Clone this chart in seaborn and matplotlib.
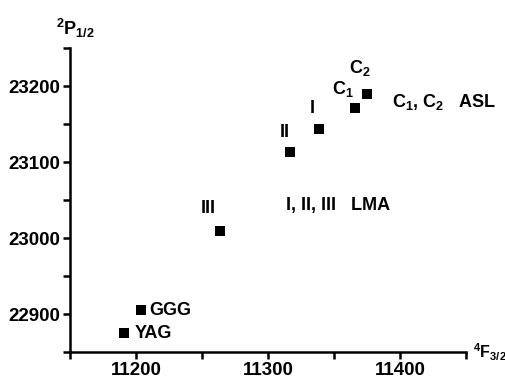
import matplotlib
matplotlib.use("Agg")
import matplotlib.pyplot as plt
import seaborn as sns
import pandas as pd
from matplotlib.ticker import MultipleLocator

# Data
labels = ["YAG", "GGG", "III", "II", "I", "C$_1$", "C$_2$"]
f32 = [11191, 11204, 11264, 11317, 11339, 11366, 11375]
p12 = [22875, 22905, 23009, 23113, 23143, 23171, 23189]
x_ticks = [11200, 11300, 11400]
y_ticks = [22900, 23000, 23100, 23200]

sns.set_theme(style="ticks")
plt.rcParams["font.family"] = ["Liberation Sans", "DejaVu Sans"]
plt.rcParams["font.weight"] = "bold"
plt.rcParams["mathtext.fontset"] = "custom"
plt.rcParams["mathtext.rm"] = "Liberation Sans:bold"
plt.rcParams["mathtext.it"] = "Liberation Sans:bold"
plt.rcParams["mathtext.bf"] = "Liberation Sans:bold"
plt.rcParams["mathtext.sf"] = "Liberation Sans:bold"
for k in ["text.color", "axes.labelcolor", "xtick.color", "ytick.color", "axes.edgecolor"]:
    plt.rcParams[k] = "black"

df = pd.DataFrame({"F": f32, "P": p12, "label": labels})

fig = plt.figure(figsize=(5.06, 3.81), dpi=100)
ax = fig.add_axes([0.138, 0.076, 0.783, 0.798])
sns.scatterplot(data=df, x="F", y="P", marker="s", s=55, color="black",
                edgecolor="black", linewidth=0, ax=ax, legend=False)

ax.set_xlim(11150, 11450)
ax.set_ylim(22850, 23250)
ax.set_xticks(x_ticks)
ax.set_yticks(y_ticks)
ax.xaxis.set_minor_locator(MultipleLocator(50))
ax.yaxis.set_minor_locator(MultipleLocator(50))
ax.tick_params(which="both", direction="out", width=1.8, length=5, labelsize=13.5,
               pad=2, colors="black")
for lab in ax.get_xticklabels() + ax.get_yticklabels():
    lab.set_fontweight("bold")
ax.set_xlabel("")
ax.set_ylabel("")
for side in ["top", "right"]:
    ax.spines[side].set_visible(False)
for side in ["left", "bottom"]:
    ax.spines[side].set_linewidth(1.8)
    ax.spines[side].set_color("black")

# point labels (offsets in points)
offsets = {
    "YAG": (8, 0, "left"),
    "GGG": (6, 0, "left"),
    "III": (-9, 16, "center"),
    "II": (-4, 14, "center"),
    "I": (-5, 15, "center"),
    "C$_1$": (-9, 14, "center"),
    "C$_2$": (-5, 19, "center"),
}
for xv, yv, lab in zip(f32, p12, labels):
    dx, dy, ha = offsets[lab]
    ax.annotate(lab, (xv, yv), xytext=(dx, dy), textcoords="offset points",
                ha=ha, va="center", fontsize=13, fontweight="bold", color="black")

ax.text(11394, 23179, "C$_1$, C$_2$   ASL", ha="left", va="center",
        fontsize=13, fontweight="bold", color="black")
ax.text(11314, 23043, "I, II, III   LMA", ha="left", va="center",
        fontsize=13, fontweight="bold", color="black")

fig.text(56 / 506, 1 - 28 / 381, "$^{2}$P$_{1/2}$", ha="left", va="center",
         fontsize=13, fontweight="bold", color="black")
fig.text(473 / 506, 1 - 352 / 381, "$^{4}$F$_{3/2}$", ha="left", va="center",
         fontsize=11.5, fontweight="bold", color="black")

fig.savefig("out.png", dpi=100)
